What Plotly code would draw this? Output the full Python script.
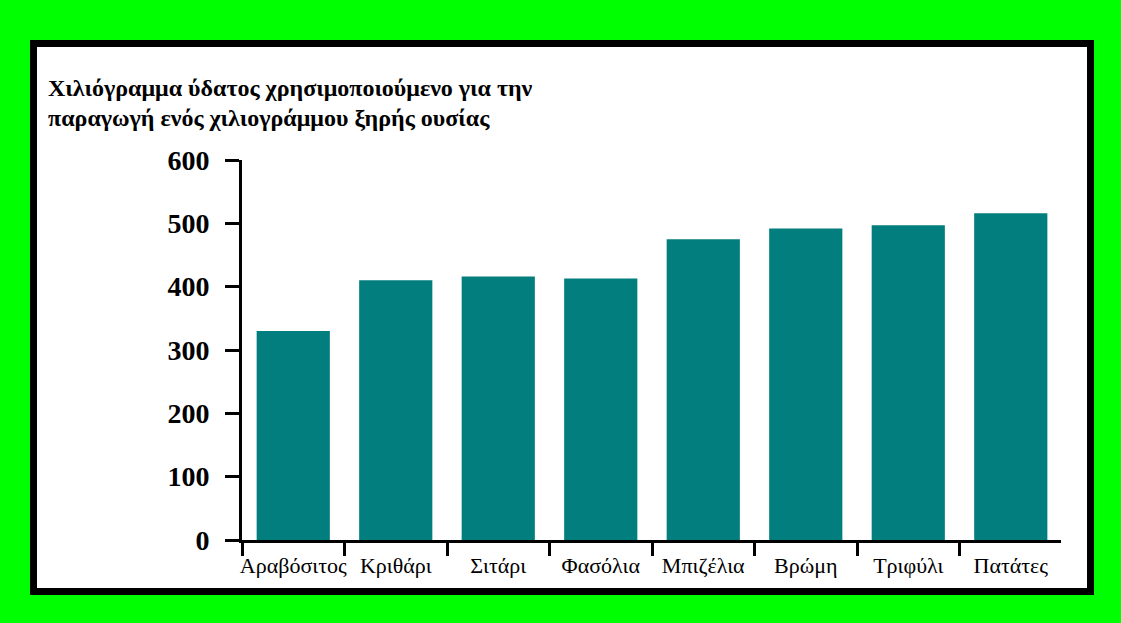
import plotly.graph_objects as go

# Water used per kilogram of dry matter, by crop
crops = ["Αραβόσιτος", "Κριθάρι", "Σιτάρι", "Φασόλια",
         "Μπιζέλια", "Βρώμη", "Τριφύλι", "Πατάτες"]
water_kg = [330, 410, 416, 413, 475, 492, 497, 516]
y_ticks = [0, 100, 200, 300, 400, 500, 600]
title_lines = ["Χιλιόγραμμα ύδατος χρησιμοποιούμενο για την",
               "παραγωγή ενός χιλιογράμμου ξηρής ουσίας"]

W, H = 1121, 623
ML, MR, MT, MB = 242, 60, 160, 83
PW, PH = W - ML - MR, H - MT - MB


def px_x(px):
    return (px - ML) / PW


def px_y(py):
    return (H - MB - py) / PH


SERIF = "Liberation Serif, Times New Roman, serif"
TEAL = "#037e7e"

fig = go.Figure(go.Bar(
    x=crops, y=water_kg,
    marker=dict(color=TEAL, line=dict(width=0)),
))

# white card with a thick black frame on the green page
fig.add_shape(type="rect", xref="paper", yref="paper", layer="below",
              x0=px_x(33.5), x1=px_x(1090.5), y0=px_y(591.5), y1=px_y(43.5),
              fillcolor="white", line=dict(color="black", width=7))

for i, line in enumerate(title_lines):
    fig.add_annotation(text=line, xref="paper", yref="paper",
                       x=px_x(46), y=px_y(88 + 30 * i),
                       xanchor="left", yanchor="middle", showarrow=False,
                       font=dict(family=SERIF, size=24, color="black", weight="bold"))

fig.update_layout(
    width=W, height=H,
    margin=dict(l=ML, r=MR, t=MT, b=MB, pad=0),
    paper_bgcolor="#00ff00",
    plot_bgcolor="white",
    bargap=0.286,
    showlegend=False,
    xaxis=dict(
        type="category", range=[-0.5, 7.49], automargin=False,
        showline=True, linecolor="black", linewidth=3,
        ticks="outside", tickson="boundaries", ticklen=13, tickwidth=3,
        tickcolor="black", showgrid=False, zeroline=False,
        tickangle=0,
        tickfont=dict(family=SERIF, size=22, color="black"),
        ticklabelstandoff=4,
    ),
    yaxis=dict(
        range=[0, 600], tickvals=y_ticks, automargin=False,
        showline=True, linecolor="black", linewidth=3,
        ticks="outside", ticklen=14, tickwidth=3, tickcolor="black",
        showgrid=False, zeroline=False,
        tickfont=dict(family=SERIF, size=28, color="black", weight="bold"),
        ticklabelstandoff=10,
    ),
)

fig.write_html("out.html")
